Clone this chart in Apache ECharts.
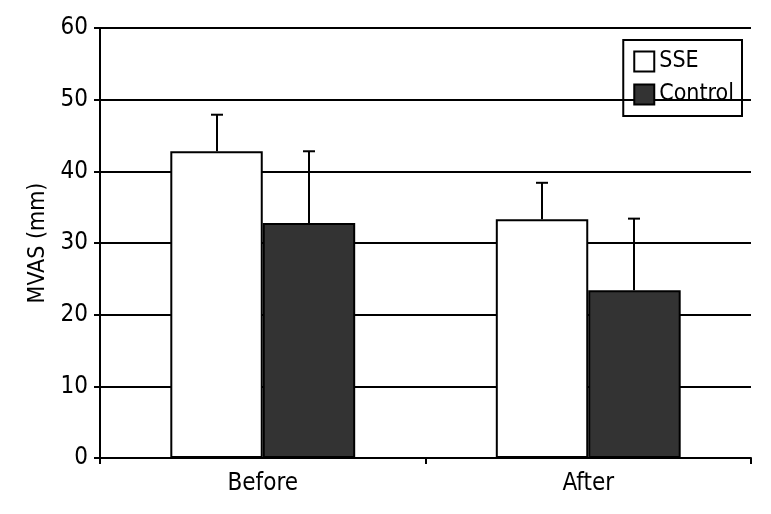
<!DOCTYPE html>
<html>
<head>
<meta charset="utf-8">
<script src="https://cdn.jsdelivr.net/npm/echarts@6/dist/echarts.min.js"></script>
<style>
  html, body { margin: 0; padding: 0; background: #fff; }
  #chart { width: 771px; height: 514px; }
</style>
</head>
<body>
<div id="chart"></div>
<script>
// data
const categories = ['Before', 'After']
const sseValues = [42.8, 33.3]
const sseUpper = [47.9, 38.4]
const controlValues = [32.8, 23.4]
const controlUpper = [42.8, 33.4]

const FONT = 'DejaVu Sans Condensed'
const BAR_RATIO = 0.284

// error bar drawn above the bar, shifted left or right of category center
function errorBar(side) {
  return function (params, api) {
    const cat = api.value(0)
    const lo = api.coord([cat, api.value(1)])
    const hi = api.coord([cat, api.value(2)])
    const band = api.size([1, 0])[0]
    const x = Math.round(lo[0] + side * band * BAR_RATIO / 2)
    const cap = 6
    const st = { stroke: '#000', lineWidth: 2 }
    return {
      type: 'group',
      children: [
        { type: 'line', shape: { x1: x, y1: lo[1], x2: x, y2: hi[1] }, style: st },
        { type: 'line', shape: { x1: x - cap, y1: hi[1], x2: x + cap, y2: hi[1] }, style: st }
      ]
    }
  }
}

const chart = echarts.init(document.getElementById('chart'))
chart.setOption({
  animation: false,
  backgroundColor: '#fff',
  grid: { left: 100, right: 20, top: 28, bottom: 56 },
  legend: {
    data: ['SSE', 'Control'],
    orient: 'vertical',
    right: 29,
    top: 40,
    icon: 'rect',
    borderColor: '#000',
    borderWidth: 2,
    padding: [10, 8, 10, 10],
    itemWidth: 20,
    itemHeight: 20,
    itemGap: 10,
    textStyle: { fontFamily: FONT, fontSize: 23, color: '#000' }
  },
  xAxis: {
    type: 'category',
    data: categories,
    axisLine: { lineStyle: { color: '#000', width: 2 } },
    axisTick: { show: true, length: 6, lineStyle: { color: '#000', width: 2 } },
    axisLabel: { fontFamily: FONT, fontSize: 24, color: '#000', margin: 14 }
  },
  yAxis: {
    type: 'value',
    min: 0,
    max: 60,
    interval: 10,
    name: 'MVAS (mm)',
    nameLocation: 'middle',
    nameGap: 50,
    nameTextStyle: { fontFamily: FONT, fontSize: 23, color: '#000' },
    axisLine: { show: true, lineStyle: { color: '#000', width: 2 } },
    axisTick: { show: true, length: 6, lineStyle: { color: '#000', width: 2 } },
    axisLabel: { fontFamily: FONT, fontSize: 24, color: '#000', margin: 12 },
    splitLine: { lineStyle: { color: '#000', width: 2 } }
  },
  series: [
    {
      name: 'SSE',
      type: 'bar',
      data: sseValues,
      barWidth: (BAR_RATIO * 100) + '%',
      barGap: '0%',
      itemStyle: { color: '#fff', borderColor: '#000', borderWidth: 2 }
    },
    {
      name: 'Control',
      type: 'bar',
      data: controlValues,
      barWidth: (BAR_RATIO * 100) + '%',
      itemStyle: { color: '#333', borderColor: '#000', borderWidth: 2 }
    },
    {
      type: 'custom',
      renderItem: errorBar(-1),
      data: sseValues.map((v, i) => [i, v, sseUpper[i]]),
      encode: { x: 0, y: [1, 2] },
      z: 5
    },
    {
      type: 'custom',
      renderItem: errorBar(1),
      data: controlValues.map((v, i) => [i, v, controlUpper[i]]),
      encode: { x: 0, y: [1, 2] },
      z: 5
    }
  ]
})
</script>
</body>
</html>
